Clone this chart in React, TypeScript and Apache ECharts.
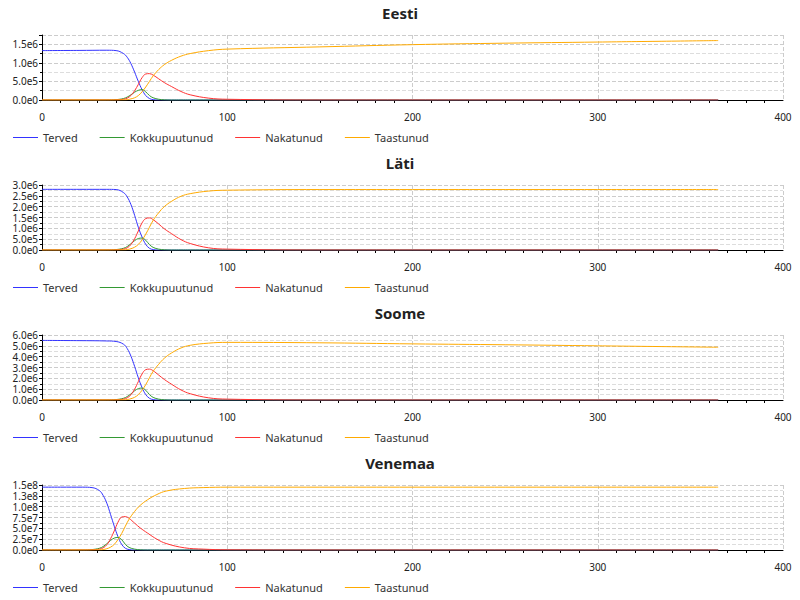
import React, { useEffect, useRef } from "react";
import * as echarts from "echarts";

const countries = ["Eesti", "Läti", "Soome", "Venemaa"];
const seriesNames = ["Terved", "Kokkupuutunud", "Nakatunud", "Taastunud"];
const colors = ["#3333ff", "#339933", "#ff3333", "#ffaa00"];

const daysA = [0, 20, 35, 40, 44, 46, 48, 50, 52, 54, 56, 58, 60, 63, 66, 70, 75, 80, 90, 100, 150, 200, 250, 300, 365];
const daysV = [0, 10, 22, 27, 31, 33, 35, 37, 39, 41, 43, 45, 47, 50, 53, 57, 62, 67, 77, 87, 100, 150, 200, 300, 365];

// values in millions
const eestiS = [1.33, 1.335, 1.34, 1.33, 1.25, 1.15, 0.98, 0.75, 0.5, 0.28, 0.12, 0.04, 0.01, 0, 0, 0, 0, 0, 0, 0, 0, 0, 0, 0, 0];
const eestiE = [0, 0, 0.002, 0.01, 0.04, 0.08, 0.14, 0.21, 0.26, 0.28, 0.22, 0.12, 0.06, 0.02, 0.005, 0, 0, 0, 0, 0, 0, 0, 0, 0, 0];
const eestiI = [0, 0, 0.001, 0.005, 0.02, 0.05, 0.12, 0.25, 0.42, 0.6, 0.7, 0.71, 0.67, 0.57, 0.47, 0.36, 0.23, 0.14, 0.05, 0.02, 0, 0, 0, 0, 0];
const eestiR = [0, 0, 0, 0.001, 0.005, 0.01, 0.03, 0.06, 0.12, 0.22, 0.35, 0.5, 0.65, 0.82, 0.95, 1.07, 1.18, 1.25, 1.33, 1.37, 1.43, 1.49, 1.53, 1.56, 1.6];

const latiS = [2.8, 2.8, 2.8, 2.79, 2.65, 2.45, 2.1, 1.6, 1.05, 0.6, 0.26, 0.08, 0.02, 0, 0, 0, 0, 0, 0, 0, 0, 0, 0, 0, 0];
const latiE = [0, 0, 0.004, 0.02, 0.08, 0.16, 0.29, 0.43, 0.53, 0.55, 0.45, 0.25, 0.12, 0.04, 0.01, 0, 0, 0, 0, 0, 0, 0, 0, 0, 0];
const latiI = [0, 0, 0.002, 0.01, 0.04, 0.1, 0.25, 0.52, 0.88, 1.25, 1.45, 1.48, 1.4, 1.2, 0.98, 0.75, 0.48, 0.3, 0.1, 0.04, 0, 0, 0, 0, 0];
const latiR = [0, 0, 0, 0.002, 0.01, 0.02, 0.06, 0.13, 0.26, 0.46, 0.73, 1.05, 1.37, 1.72, 2.0, 2.25, 2.48, 2.6, 2.72, 2.76, 2.79, 2.79, 2.79, 2.79, 2.79];

const soomeS = [5.5, 5.48, 5.45, 5.4, 5.15, 4.75, 4.05, 3.1, 2.05, 1.15, 0.5, 0.16, 0.04, 0, 0, 0, 0, 0, 0, 0, 0, 0, 0, 0, 0];
const soomeE = [0, 0, 0.008, 0.04, 0.16, 0.32, 0.56, 0.85, 1.05, 1.1, 0.9, 0.5, 0.24, 0.08, 0.02, 0, 0, 0, 0, 0, 0, 0, 0, 0, 0];
const soomeI = [0, 0, 0.004, 0.02, 0.08, 0.2, 0.48, 1.0, 1.7, 2.4, 2.8, 2.85, 2.7, 2.3, 1.9, 1.45, 0.93, 0.58, 0.2, 0.08, 0, 0, 0, 0, 0];
const soomeR = [0, 0, 0, 0.004, 0.02, 0.04, 0.12, 0.25, 0.5, 0.9, 1.42, 2.05, 2.65, 3.3, 3.85, 4.35, 4.8, 5.05, 5.25, 5.32, 5.28, 5.18, 5.1, 5.0, 4.87];

const venemaaS = [145, 145, 145, 144, 137, 126, 108, 82, 55, 31, 13, 4, 1, 0, 0, 0, 0, 0, 0, 0, 0, 0, 0, 0, 0];
const venemaaE = [0, 0, 0.2, 1, 4, 8, 14.5, 22, 27.5, 29, 24, 13, 6, 2, 0.5, 0, 0, 0, 0, 0, 0, 0, 0, 0, 0];
const venemaaI = [0, 0, 0.1, 0.5, 2, 5, 12, 26, 44, 64, 76, 77, 73, 62, 51, 39, 25, 15, 5, 2, 0.5, 0, 0, 0, 0];
const venemaaR = [0, 0, 0, 0.1, 0.5, 1, 3, 6.5, 13, 24, 38, 55, 71, 89, 103, 116, 128, 136, 142, 144, 145, 145, 145, 145, 145];

const countryDays = [daysA, daysA, daysA, daysV];
const countryData = [
  [eestiS, eestiE, eestiI, eestiR],
  [latiS, latiE, latiI, latiR],
  [soomeS, soomeE, soomeI, soomeR],
  [venemaaS, venemaaE, venemaaI, venemaaR],
];
const yMax = [1.75e6, 3.0e6, 6.0e6, 1.5e8];
const yInterval = [5e5, 5e5, 1e6, 2.5e7];

export default function App() {
  const ref = useRef<HTMLDivElement>(null);
  useEffect(() => {
    const chart = echarts.init(ref.current!, null, { renderer: "svg" });
    const font = "Noto Sans";
    const title: any[] = [], legend: any[] = [], grid: any[] = [], xAxis: any[] = [], yAxis: any[] = [], series: any[] = [];
    countries.forEach((c, i) => {
      const off = 150 * i;
      title.push({ text: c, left: "center", top: off, textStyle: { fontSize: 15, fontWeight: "bold", fontFamily: font, color: "#222" } });
      legend.push({
        top: off + 127, left: 8, itemWidth: 25, itemHeight: 8, itemGap: 22,
        icon: "path://M0,4 L25,4 L25,5 L0,5 Z",
        data: seriesNames.map((n, k) => ({ name: n, itemStyle: { color: colors[k] } })),
        textStyle: { fontSize: 11, fontFamily: font, color: "#333" },
      });
      grid.push({ left: 42, right: 17, top: off + 35, height: 65 });
      xAxis.push({
        type: "value", gridIndex: i, min: 0, max: 400, interval: 100,
        axisLine: { lineStyle: { color: "#000" } },
        axisTick: { show: false },
        minorTick: { show: true, splitNumber: 10, length: 3, lineStyle: { color: "#000" } },
        axisLabel: { fontSize: 10, fontFamily: font, color: "#222", margin: 12 },
        splitLine: { show: true, lineStyle: { type: "dashed", color: "#ccc" } },
      });
      yAxis.push({
        type: "value", gridIndex: i, min: 0, max: yMax[i], interval: yInterval[i],
        axisLine: { show: true, lineStyle: { color: "#000" } },
        axisTick: { show: true, length: 3 },
        minorTick: { show: true, splitNumber: 2, length: 2, lineStyle: { color: "#000" } },
        axisLabel: {
          fontSize: 10, fontFamily: font, color: "#222", margin: 4,
          formatter: (v: number) => v.toExponential(1).replace("e+", "e"),
        },
        splitLine: { show: true, lineStyle: { type: "dashed", color: "#ccc" } },
        minorSplitLine: { show: true, lineStyle: { type: "dashed", color: "#ddd" } },
      });
      countryData[i].forEach((arr, k) => {
        series.push({
          type: "line", name: seriesNames[k], xAxisIndex: i, yAxisIndex: i,
          showSymbol: false, smooth: 0.4, color: colors[k],
          lineStyle: { width: 1, color: colors[k] },
          data: countryDays[i].map((d, j) => [d, arr[j] * 1e6]),
        });
      });
    });
    chart.setOption({ animation: false, title, legend, grid, xAxis, yAxis, series });
    return () => chart.dispose();
  }, []);
  return <div ref={ref} style={{ position: "absolute", left: 0, top: 0, width: 800, height: 600 }} />;
}
